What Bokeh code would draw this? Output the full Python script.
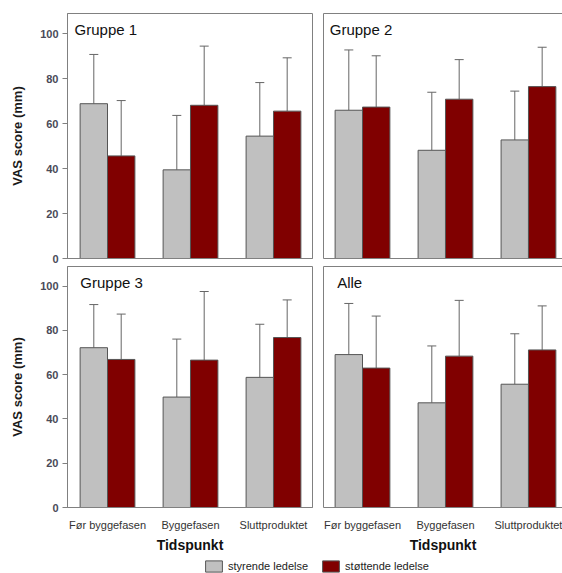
from bokeh.plotting import figure
from bokeh.layouts import column, row
from bokeh.models import (ColumnDataSource, Range1d, FixedTicker, Whisker, TeeHead, Label,
                          Legend, LegendItem, LinearAxis)
from bokeh.transform import dodge
from bokeh.embed import file_html
from bokeh.resources import INLINE

# ---------------- data ----------------
categories = ["Før byggefasen", "Byggefasen", "Sluttproduktet"]
series_names = ["styrende ledelse", "støttende ledelse"]
panel_titles = ["Gruppe 1", "Gruppe 2", "Gruppe 3", "Alle"]
y_ticks = [0, 20, 40, 60, 80, 100]

g1_styrende = [68.8, 39.4, 54.4]
g1_styrende_sd = [21.9, 24.2, 23.8]
g1_stottende = [45.6, 68.1, 65.5]
g1_stottende_sd = [24.6, 26.3, 23.7]

g2_styrende = [65.9, 48.1, 52.7]
g2_styrende_sd = [26.8, 25.8, 21.7]
g2_stottende = [67.3, 70.8, 76.4]
g2_stottende_sd = [22.8, 17.6, 17.5]

g3_styrende = [72.2, 49.9, 58.8]
g3_styrende_sd = [19.5, 26.2, 24.0]
g3_stottende = [66.9, 66.6, 76.8]
g3_stottende_sd = [20.5, 31.0, 17.0]

alle_styrende = [69.1, 47.3, 55.7]
alle_styrende_sd = [23.1, 25.7, 22.8]
alle_stottende = [63.0, 68.4, 71.2]
alle_stottende_sd = [23.5, 25.2, 19.9]

# ---------------- style ----------------
FONT = "Liberation Sans"
GRAY = "#c0c0c0"
RED = "#800000"
EDGE = "#555555"
FRAME = "#808080"
WHISK = "#666666"
BAR_W = 0.33
OFF = 0.165
Y_END = 108.9


def empty_axis(ax):
    ax.ticker = FixedTicker(ticks=[])
    ax.major_tick_out = 0
    ax.major_tick_in = 0
    ax.minor_tick_out = 0
    ax.minor_tick_in = 0
    ax.major_label_standoff = 0
    ax.major_label_text_font_size = "0px"
    ax.axis_line_color = FRAME


def make_panel(title, sty, sty_sd, sto, sto_sd, left_col, bottom_row, title_dx):
    idx = list(range(len(categories)))
    src = ColumnDataSource(dict(
        idx=idx,
        sty=sty, sty_hi=[m + s for m, s in zip(sty, sty_sd)],
        sto=sto, sto_hi=[m + s for m, s in zip(sto, sto_sd)],
    ))
    if left_col:
        width, xr = 317, Range1d(-0.482, 2.47)
        mbl, mbr = 67, 5
    else:
        width, xr = 245, Range1d(-0.47, 2.41)
        mbl, mbr = 6, 0
    if bottom_row:
        height, mbt, mbb = 290, 1, 45
    else:
        height, mbt, mbb = 265, 13, 7

    p = figure(width=width, height=height, x_range=xr, y_range=Range1d(0, Y_END),
               output_backend="svg", toolbar_location=None,
               min_border_left=mbl, min_border_right=mbr,
               min_border_top=mbt, min_border_bottom=mbb)
    p.grid.visible = False
    p.background_fill_color = "white"
    p.border_fill_color = "white"

    if left_col:
        p.outline_line_color = FRAME
        p.outline_line_width = 1
    else:
        p.outline_line_color = None

    p.vbar(x=dodge("idx", -OFF), top="sty", width=BAR_W, source=src,
           fill_color=GRAY, line_color=EDGE, line_width=1)
    p.vbar(x=dodge("idx", OFF), top="sto", width=BAR_W, source=src,
           fill_color=RED, line_color=EDGE, line_width=1)

    for col, off in (("sty", -OFF), ("sto", OFF)):
        w = Whisker(base=dodge("idx", off), lower=col, upper=col + "_hi", source=src,
                    line_color=WHISK, line_width=1, lower_head=None,
                    upper_head=TeeHead(size=9, line_color=WHISK, line_width=1))
        p.add_layout(w)

    yax = p.left[0]
    xax = p.below[0]

    # y axis
    if left_col:
        yax.ticker = FixedTicker(ticks=y_ticks)
        yax.major_tick_out = 5
        yax.major_tick_in = 0
        yax.minor_tick_out = 0
        yax.minor_tick_in = 0
        yax.major_tick_line_color = FRAME
        yax.axis_line_color = FRAME
        yax.major_label_text_font = FONT
        yax.major_label_text_font_style = "bold"
        yax.major_label_text_font_size = "11px"
        yax.major_label_text_color = "#4a4a58"
        yax.major_label_standoff = 4
        yax.axis_label = "VAS score (mm)"
        yax.axis_label_text_font = FONT
        yax.axis_label_text_font_style = "bold"
        yax.axis_label_text_font_size = "13px"
        yax.axis_label_text_color = "#1a1a1a"
        yax.axis_label_standoff = 12
    else:
        empty_axis(yax)
        top = LinearAxis()
        empty_axis(top)
        p.add_layout(top, "above")

    # x axis
    if bottom_row:
        xax.ticker = FixedTicker(ticks=idx)
        xax.major_label_overrides = {i: c for i, c in zip(idx, categories)}
        xax.major_tick_out = 0
        xax.major_tick_in = 0
        xax.minor_tick_out = 0
        xax.minor_tick_in = 0
        xax.axis_line_color = FRAME
        xax.major_label_text_font = FONT
        xax.major_label_text_font_size = "11px"
        xax.major_label_text_color = "#333333"
        xax.major_label_standoff = 11
        xax.axis_label = "Tidspunkt"
        xax.axis_label_text_font = FONT
        xax.axis_label_text_font_style = "bold"
        xax.axis_label_text_font_size = "14px"
        xax.axis_label_text_color = "#111111"
        xax.axis_label_standoff = 3
    else:
        empty_axis(xax)

    p.add_layout(Label(x=xr.start + title_dx, y=Y_END - 3.4, text=title,
                       text_baseline="top", text_align="left",
                       text_font=FONT, text_font_size="15px", text_color="#111111"))
    return p


p1 = make_panel(panel_titles[0], g1_styrende, g1_styrende_sd, g1_stottende, g1_stottende_sd,
                True, False, 0.085)
p2 = make_panel(panel_titles[1], g2_styrende, g2_styrende_sd, g2_stottende, g2_stottende_sd,
                False, False, 0.075)
p3 = make_panel(panel_titles[2], g3_styrende, g3_styrende_sd, g3_stottende, g3_stottende_sd,
                True, True, 0.155)
p4 = make_panel(panel_titles[3], alle_styrende, alle_styrende_sd, alle_stottende, alle_stottende_sd,
                False, True, 0.165)

# legend strip: the series glyphs are drawn off-view, only their legend is visible
pleg = figure(width=562, height=18, x_range=Range1d(-0.5, 2.5), y_range=Range1d(1000, 1001),
              output_backend="svg", toolbar_location=None,
              x_axis_type=None, y_axis_type=None, min_border=0)
pleg.grid.visible = False
pleg.outline_line_color = None
leg_src = ColumnDataSource(dict(idx=list(range(len(categories))), sty=alle_styrende, sto=alle_stottende))
r1 = pleg.vbar(x="idx", top="sty", width=BAR_W, source=leg_src, fill_color=GRAY, line_color=EDGE)
r2 = pleg.vbar(x="idx", top="sto", width=BAR_W, source=leg_src, fill_color=RED, line_color=EDGE)
leg = Legend(items=[LegendItem(label=series_names[0], renderers=[r1]),
                    LegendItem(label=series_names[1], renderers=[r2])],
             orientation="horizontal", location=(203, 0),
             glyph_width=21, glyph_height=14, label_standoff=4, spacing=12,
             padding=0, margin=0, border_line_color=None, background_fill_alpha=0,
             label_text_font=FONT, label_text_font_size="11px", label_text_color="#222222")
pleg.add_layout(leg)

layout = column(row(p1, p2), row(p3, p4), pleg)

open("out.html", "w").write(file_html(layout, INLINE))
